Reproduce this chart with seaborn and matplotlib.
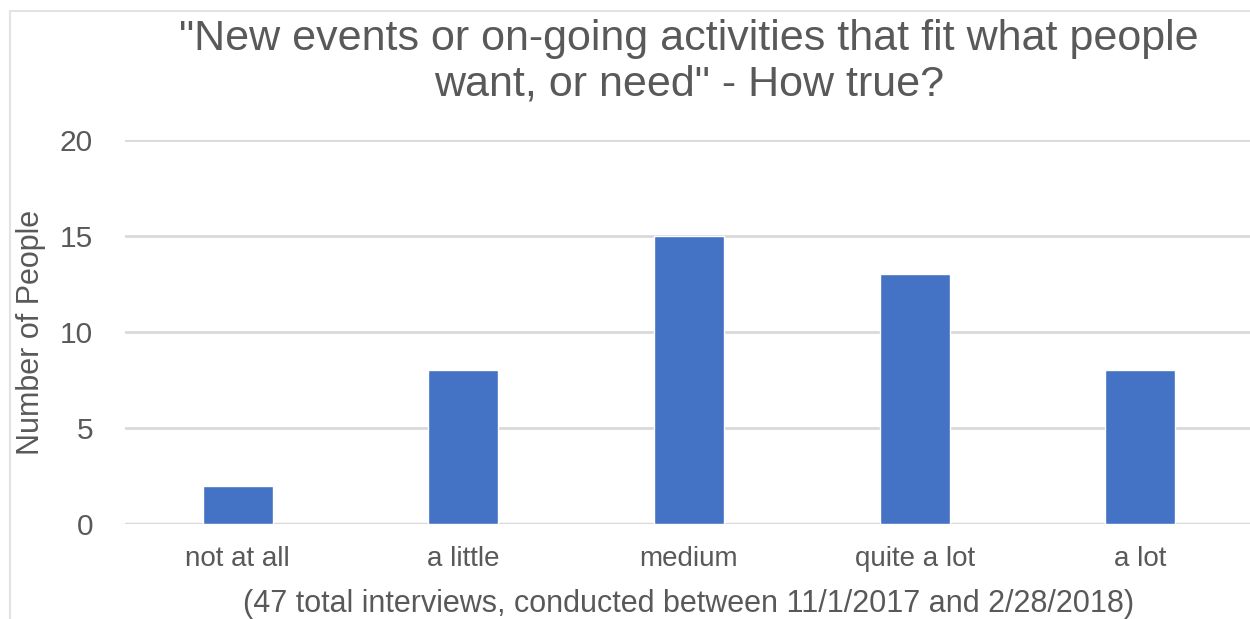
import matplotlib
matplotlib.use("Agg")
import matplotlib.pyplot as plt
from matplotlib.patches import Rectangle
import pandas as pd
import seaborn as sns

categories = ["not at all", "a little", "medium", "quite a lot", "a lot"]
counts = [2, 8, 15, 13, 8]
y_ticks = [0, 5, 10, 15, 20]

title = '"New events or on-going activities that fit what people\nwant, or need" - How true?'
y_label = "Number of People"
x_label = "(47 total interviews, conducted between 11/1/2017 and 2/28/2018)"

sns.set_theme(style="white")
plt.rcParams["font.family"] = ["Liberation Sans", "DejaVu Sans"]

text_color = "#595959"
grid_color = "#d9d9d9"
bar_color = "#4472c4"

df = pd.DataFrame({"category": categories, "count": counts})

fig = plt.figure(figsize=(12.5, 6.19), dpi=100)
fig.patch.set_facecolor("white")
ax = fig.add_axes([0.1, 0.1535, 0.9024, 0.6204])

sns.barplot(data=df, x="category", y="count", color=bar_color, width=0.31,
            saturation=1, ax=ax, zorder=3)

ax.set_ylim(0, 20)
ax.set_xlim(-0.5, 4.5)
ax.set_yticks(y_ticks)
ax.yaxis.grid(True, color=grid_color, linewidth=2, zorder=0)
ax.xaxis.grid(False)
for side in ["top", "right", "left", "bottom"]:
    ax.spines[side].set_visible(False)
ax.axhline(0, color=grid_color, linewidth=2.5, zorder=2)

ax.tick_params(axis="y", length=0, pad=23, labelsize=21.5, labelcolor=text_color)
ax.tick_params(axis="x", length=0, pad=16, labelsize=20, labelcolor=text_color)

ax.set_title(title, fontsize=31, color=text_color, pad=32, linespacing=1.18)
ax.set_ylabel(y_label, fontsize=22, color=text_color)
ax.yaxis.set_label_coords(-0.070, 0.5)
ax.set_xlabel(x_label, fontsize=22, color=text_color, labelpad=12)

# thin frame around the chart area
fig.patches.append(Rectangle((10 / 1250, -0.2), 1.2, 1.2 - 11 / 619,
                             transform=fig.transFigure, fill=False,
                             edgecolor="#e3e3e3", linewidth=1.5))

fig.savefig("out.png", dpi=100, facecolor="white")
